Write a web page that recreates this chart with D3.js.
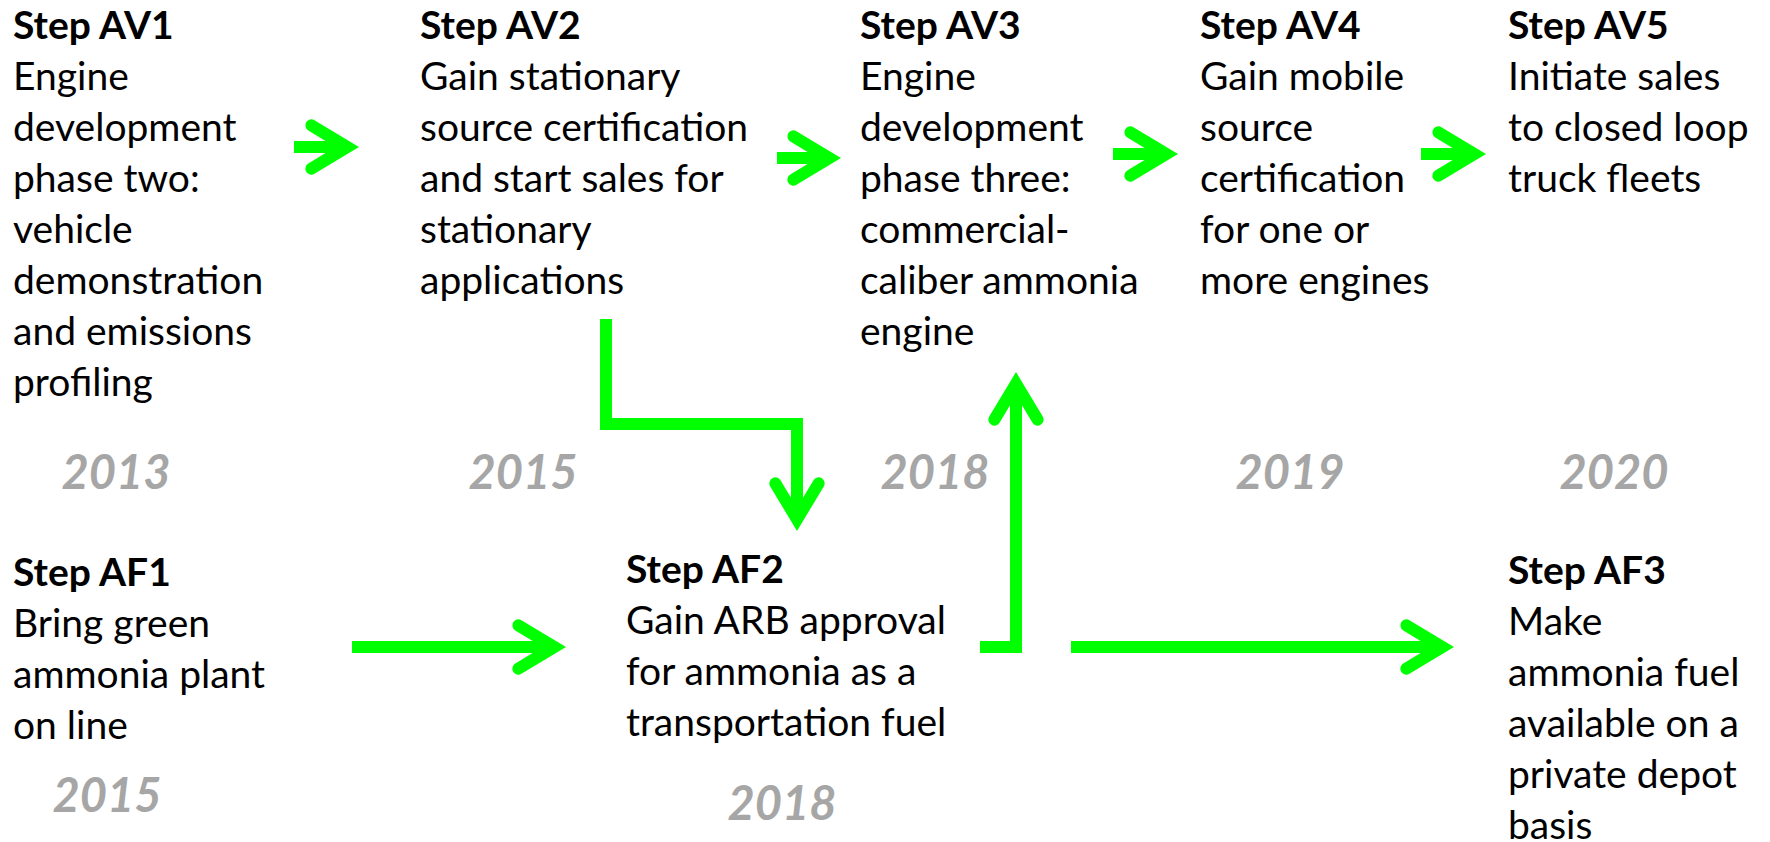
<!DOCTYPE html>
<meta charset="utf-8">
<style>
body { margin: 0; background: #fff; }
.step { font-family: Lato, "Open Sans", sans-serif; font-weight: bold; fill: #000; }
.desc { font-family: Lato, "Open Sans", sans-serif; fill: #000; }
.year { font-family: Lato, "Open Sans", sans-serif; font-weight: bold; font-style: italic; fill: #a6a6a6; }
.flow { fill: none; stroke: #00ff00; stroke-width: 12px; }
</style>
<body>
<script src="https://cdn.jsdelivr.net/npm/d3@7"></script>
<script>
// vehicle track (top row)
var vehicleSteps = ["Step AV1", "Step AV2", "Step AV3", "Step AV4", "Step AV5"];
var vehicleText = [
  ["Engine", "development", "phase two:", "vehicle", "demonstration", "and emissions", "profiling"],
  ["Gain stationary", "source certification", "and start sales for", "stationary", "applications"],
  ["Engine", "development", "phase three:", "commercial-", "caliber ammonia", "engine"],
  ["Gain mobile", "source", "certification", "for one or", "more engines"],
  ["Initiate sales", "to closed loop", "truck fleets"]
];
var vehicleYears = ["2013", "2015", "2018", "2019", "2020"];

// fuel track (bottom row)
var fuelSteps = ["Step AF1", "Step AF2", "Step AF3"];
var fuelText = [
  ["Bring green", "ammonia plant", "on line"],
  ["Gain ARB approval", "for ammonia as a", "transportation fuel"],
  ["Make", "ammonia fuel", "available on a", "private depot", "basis"]
];
var fuelYears = ["2015", "2018"];

// links between steps
var links = [
  ["Step AV1", "Step AV2"], ["Step AV2", "Step AV3"], ["Step AV3", "Step AV4"], ["Step AV4", "Step AV5"],
  ["Step AF1", "Step AF2"], ["Step AF2", "Step AF3"],
  ["Step AV2", "Step AF2"], ["Step AF2", "Step AV3"]
];

var width = 1770, height = 842;

var svg = d3.select("body").append("svg")
    .attr("width", width)
    .attr("height", height);

svg.append("rect").attr("width", width).attr("height", height).attr("fill", "#fff");

var ids = vehicleSteps.concat(fuelSteps);

var xCol = d3.scaleOrdinal()
    .domain(ids)
    .range([13, 420, 860, 1200, 1508, 13, 626, 1508]);

var yHead = d3.scaleOrdinal()
    .domain(ids)
    .range([39, 39, 39, 39, 39, 586, 583, 584]);

var xYear = d3.scaleOrdinal()
    .domain(ids)
    .range([116, 523, 935, 1290, 1614, 107, 782]);

var yYear = d3.scaleOrdinal()
    .domain(ids)
    .range([489, 489, 489, 489, 489, 812, 820]);

var fontSize = 39, lineH = 51;

function drawRow(steps, texts, years) {
  var g = svg.append("g");
  var col = g.selectAll("g.col")
      .data(steps)
    .enter().append("g")
      .attr("class", "col")
      .attr("transform", function(d) { return "translate(" + xCol(d) + "," + yHead(d) + ")"; });

  col.append("text")
      .attr("class", "step")
      .style("font-size", fontSize + "px")
      .text(function(d) { return d; });

  col.append("text")
      .attr("class", "desc")
      .style("font-size", fontSize + "px")
    .selectAll("tspan")
      .data(function(d, i) { return texts[i]; })
    .enter().append("tspan")
      .attr("x", 0)
      .attr("y", function(d, i) { return lineH * (i + 1); })
      .text(function(d) { return d; });

  g.selectAll("text.year")
      .data(years)
    .enter().append("text")
      .attr("class", "year")
      .attr("x", function(d, i) { return xYear(steps[i]); })
      .attr("y", function(d, i) { return yYear(steps[i]); })
      .attr("text-anchor", "middle")
      .style("font-size", "47px")
      .text(function(d) { return d; });
}

drawRow(vehicleSteps, vehicleText, vehicleYears);
drawRow(fuelSteps, fuelText, fuelYears);

// connector routes (layout points), last point is the visible arrow tip
var routes = {
  "Step AV1>Step AV2": [[294, 147], [359, 147]],
  "Step AV2>Step AV3": [[777, 158], [841, 158]],
  "Step AV3>Step AV4": [[1113, 154], [1178, 154]],
  "Step AV4>Step AV5": [[1421, 154], [1486, 154]],
  "Step AF1>Step AF2": [[352, 647], [566, 647]],
  "Step AF2>Step AF3": [[1071, 647], [1454, 647]],
  "Step AV2>Step AF2": [[606, 319], [606, 424], [797, 424], [797, 531]],
  "Step AF2>Step AV3": [[980, 647], [1016, 647], [1016, 372]]
};

var line = d3.line();
var headLen = 42, headAng = 31 * Math.PI / 180, sw = 12;
var miter = (sw / 2) / Math.sin(headAng);

links.forEach(function(l) {
  var pts = routes[l[0] + ">" + l[1]];
  var n = pts.length, vis = pts[n - 1], prev = pts[n - 2];
  var dx = vis[0] - prev[0], dy = vis[1] - prev[1], len = Math.sqrt(dx * dx + dy * dy);
  var ux = dx / len, uy = dy / len;
  var tip = [vis[0] - ux * miter, vis[1] - uy * miter];
  var shaft = pts.slice(0, n - 1).concat([[tip[0] - ux * 6, tip[1] - uy * 6]]);
  svg.append("path")
      .attr("class", "flow")
      .attr("d", line(shaft))
      .style("stroke-linejoin", "miter")
      .style("stroke-linecap", "butt");
  var bx = tip[0] - ux * headLen * Math.cos(headAng), by = tip[1] - uy * headLen * Math.cos(headAng);
  var px = -uy * headLen * Math.sin(headAng), py = ux * headLen * Math.sin(headAng);
  svg.append("path")
      .attr("class", "flow")
      .attr("d", line([[bx + px, by + py], tip, [bx - px, by - py]]))
      .style("stroke-linejoin", "miter")
      .style("stroke-miterlimit", 10)
      .style("stroke-linecap", "round");
});
</script>
